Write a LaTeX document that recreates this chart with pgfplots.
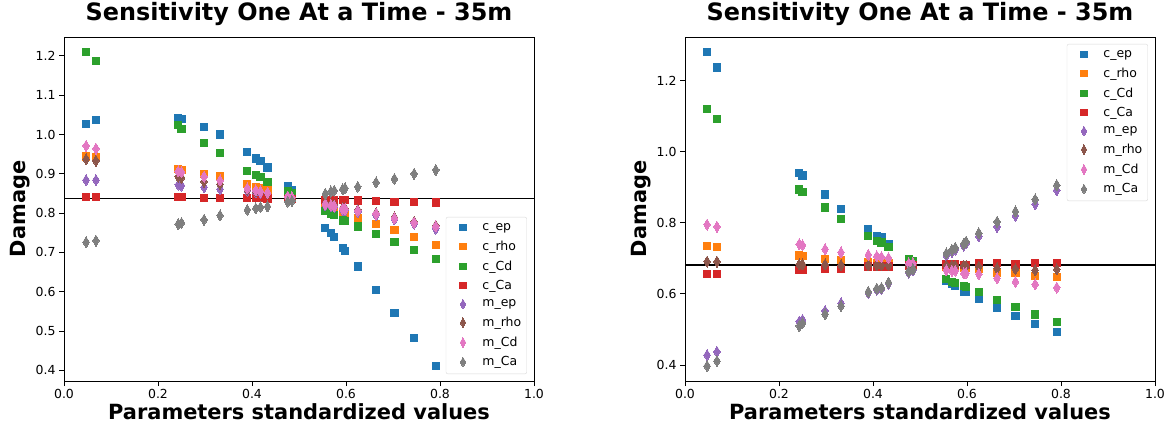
\documentclass[border=0pt]{standalone}
\usepackage{fontspec}
\setmainfont{DejaVu Sans}
\usepackage{pgfplots}
\usepackage{pgfplotstable}
\pgfplotsset{compat=1.18}
\definecolor{C0}{HTML}{1F77B4}
\definecolor{C1}{HTML}{FF7F0E}
\definecolor{C2}{HTML}{2CA02C}
\definecolor{C3}{HTML}{D62728}
\definecolor{C4}{HTML}{9467BD}
\definecolor{C5}{HTML}{8C564B}
\definecolor{C6}{HTML}{E377C2}
\definecolor{C7}{HTML}{7F7F7F}

\pgfplotstableread{
x cep crho cCd cCa mep mrho mCd mCa
0.047 1.026 0.944 1.209 0.840 0.884 0.937 0.971 0.726
0.068 1.036 0.942 1.186 0.840 0.884 0.933 0.964 0.730
0.243 1.041 0.912 1.024 0.840 0.872 0.893 0.906 0.772
0.250 1.039 0.910 1.014 0.840 0.870 0.890 0.904 0.775
0.298 1.019 0.900 0.978 0.839 0.866 0.880 0.893 0.783
0.332 1.000 0.893 0.952 0.839 0.861 0.874 0.883 0.794
0.390 0.956 0.874 0.908 0.838 0.857 0.860 0.863 0.808
0.408 0.939 0.867 0.896 0.838 0.853 0.856 0.858 0.812
0.418 0.933 0.863 0.892 0.838 0.852 0.854 0.855 0.815
0.433 0.916 0.860 0.880 0.837 0.850 0.850 0.852 0.817
0.476 0.869 0.845 0.855 0.836 0.842 0.840 0.842 0.829
0.485 0.859 0.843 0.851 0.836 0.840 0.839 0.840 0.831
0.556 0.763 0.813 0.806 0.834 0.820 0.826 0.823 0.849
0.568 0.749 0.810 0.798 0.834 0.818 0.823 0.820 0.855
0.575 0.740 0.805 0.795 0.834 0.816 0.821 0.818 0.857
0.593 0.711 0.800 0.781 0.833 0.808 0.813 0.811 0.861
0.598 0.704 0.798 0.779 0.833 0.807 0.812 0.810 0.863
0.625 0.664 0.788 0.766 0.832 0.803 0.808 0.806 0.867
0.664 0.604 0.773 0.747 0.831 0.795 0.800 0.798 0.878
0.703 0.545 0.757 0.727 0.829 0.784 0.789 0.787 0.887
0.745 0.482 0.740 0.706 0.829 0.773 0.778 0.776 0.900
0.791 0.412 0.718 0.684 0.827 0.760 0.768 0.766 0.910
}\dataL

\pgfplotstableread{
x cep crho cCd cCa mep mrho mCd mCa
0.047 1.280 0.734 1.120 0.657 0.428 0.691 0.795 0.397
0.068 1.237 0.731 1.093 0.657 0.437 0.691 0.789 0.411
0.243 0.941 0.708 0.894 0.667 0.522 0.683 0.740 0.510
0.250 0.933 0.706 0.886 0.667 0.527 0.683 0.737 0.518
0.298 0.880 0.698 0.843 0.670 0.552 0.683 0.726 0.543
0.332 0.840 0.696 0.811 0.670 0.574 0.681 0.717 0.566
0.390 0.782 0.690 0.763 0.677 0.603 0.681 0.710 0.606
0.408 0.764 0.688 0.750 0.677 0.612 0.681 0.706 0.615
0.418 0.759 0.687 0.745 0.677 0.614 0.681 0.704 0.617
0.433 0.741 0.686 0.733 0.677 0.629 0.681 0.701 0.632
0.476 0.695 0.683 0.698 0.680 0.660 0.681 0.686 0.663
0.485 0.690 0.682 0.693 0.680 0.666 0.681 0.686 0.669
0.556 0.636 0.677 0.642 0.683 0.708 0.680 0.667 0.714
0.568 0.627 0.676 0.634 0.683 0.718 0.680 0.665 0.724
0.575 0.622 0.675 0.630 0.683 0.724 0.679 0.665 0.730
0.593 0.606 0.674 0.622 0.681 0.736 0.679 0.658 0.741
0.598 0.605 0.673 0.620 0.681 0.742 0.678 0.658 0.747
0.625 0.585 0.670 0.606 0.686 0.762 0.677 0.656 0.771
0.664 0.560 0.660 0.583 0.686 0.789 0.672 0.644 0.803
0.703 0.538 0.658 0.564 0.683 0.820 0.670 0.634 0.832
0.745 0.516 0.651 0.542 0.688 0.853 0.667 0.627 0.866
0.791 0.494 0.648 0.520 0.688 0.892 0.669 0.618 0.906
}\dataR

\pgfplotsset{
  sq/.style={only marks, mark=square*, mark size=3.6bp, mark options={fill=#1, draw=#1, line width=0pt}},
  dm/.style={only marks, mark=diamond*, mark size=5.5bp, mark options={fill=#1, draw=#1, line width=0pt, xscale=0.8}},
  myaxis/.style={
    scale only axis, width=470bp, height=344bp,
    xmin=0, xmax=1,
    axis line style={line width=0.9bp},
    tick align=outside, major tick length=5bp,
    every tick/.style={black, line width=0.9bp},
    xtick={0,0.2,0.4,0.6,0.8,1}, xticklabels={0.0,0.2,0.4,0.6,0.8,1.0},
    ticklabel style={font=\fontsize{12.5}{14}\selectfont},
    /pgf/number format/assume math mode=true,
    xtick pos=bottom, ytick pos=left,
    title style={at={(axis description cs:0.5,1.03)}, anchor=base, font=\fontsize{24}{28}\selectfont\bfseries},
    xlabel style={at={(axis description cs:0.5,-0.113)}, anchor=base, font=\fontsize{21}{25}\selectfont\bfseries},
    ylabel style={at={(axis description cs:-0.0936,0.5)}, anchor=center, font=\fontsize{21}{25}\selectfont\bfseries},
    xlabel={Parameters standardized values}, ylabel={Damage},
    title={Sensitivity One At a Time - 35m},
    legend cell align=left,
    legend image code/.code={
      \path[draw=none, fill=none] (0bp,-4bp) rectangle (31bp,4bp);
      \draw[#1, opacity=1, every mark/.append style={scale=0.85, opacity=1}] plot coordinates {(13bp,0bp)};
    },
    legend style={font=\fontsize{12.5}{14}\selectfont, draw=black!15, rounded corners=2bp,
      fill=white, fill opacity=0.8, draw opacity=1, text opacity=1,
      row sep=5.8bp, inner xsep=4bp, inner ysep=5bp,
      nodes={inner sep=1.5bp}},
  },
}

\begin{document}
\begin{tikzpicture}
\useasboundingbox (0,0) rectangle (1165bp,427bp);
\begin{axis}[myaxis, at={(64bp,46bp)}, anchor=south west,
  ymin=0.373, ymax=1.248,
  ytick={0.4,0.5,0.6,0.7,0.8,0.9,1.0,1.1,1.2},
  yticklabels={0.4,0.5,0.6,0.7,0.8,0.9,1.0,1.1,1.2},
  legend style={at={(rel axis cs:0.985,0.02)}, anchor=south east}]
\addplot[sq=C0] table[x=x,y=cep]{\dataL};
\addplot[sq=C1] table[x=x,y=crho]{\dataL};
\addplot[sq=C2] table[x=x,y=cCd]{\dataL};
\addplot[sq=C3] table[x=x,y=cCa]{\dataL};
\addplot[dm=C4] table[x=x,y=mep]{\dataL};
\addplot[dm=C5] table[x=x,y=mrho]{\dataL};
\addplot[dm=C6] table[x=x,y=mCd]{\dataL};
\addplot[dm=C7] table[x=x,y=mCa]{\dataL};
\legend{c\_ep,c\_rho,c\_Cd,c\_Ca,m\_ep,m\_rho,m\_Cd,m\_Ca}
\addplot[black, line width=1.8bp, forget plot] coordinates {(0,0.837) (1,0.837)};
\node[anchor=base west, font=\fontsize{11.5}{13}\selectfont] at (axis description cs:0,1.006) {1e−7};
\end{axis}
\begin{axis}[myaxis, at={(685bp,46bp)}, anchor=south west,
  ymin=0.355, ymax=1.323,
  ytick={0.4,0.6,0.8,1.0,1.2},
  yticklabels={0.4,0.6,0.8,1.0,1.2},
  legend style={at={(rel axis cs:0.985,0.98)}, anchor=north east}]
\addplot[sq=C0] table[x=x,y=cep]{\dataR};
\addplot[sq=C1] table[x=x,y=crho]{\dataR};
\addplot[sq=C2] table[x=x,y=cCd]{\dataR};
\addplot[sq=C3] table[x=x,y=cCa]{\dataR};
\addplot[dm=C4] table[x=x,y=mep]{\dataR};
\addplot[dm=C5] table[x=x,y=mrho]{\dataR};
\addplot[dm=C6] table[x=x,y=mCd]{\dataR};
\addplot[dm=C7] table[x=x,y=mCa]{\dataR};
\legend{c\_ep,c\_rho,c\_Cd,c\_Ca,m\_ep,m\_rho,m\_Cd,m\_Ca}
\addplot[black, line width=1.8bp, forget plot] coordinates {(0,0.681) (1,0.681)};
\node[anchor=base west, font=\fontsize{11.5}{13}\selectfont] at (axis description cs:0,1.006) {1e−7};
\end{axis}
\end{tikzpicture}
\end{document}
